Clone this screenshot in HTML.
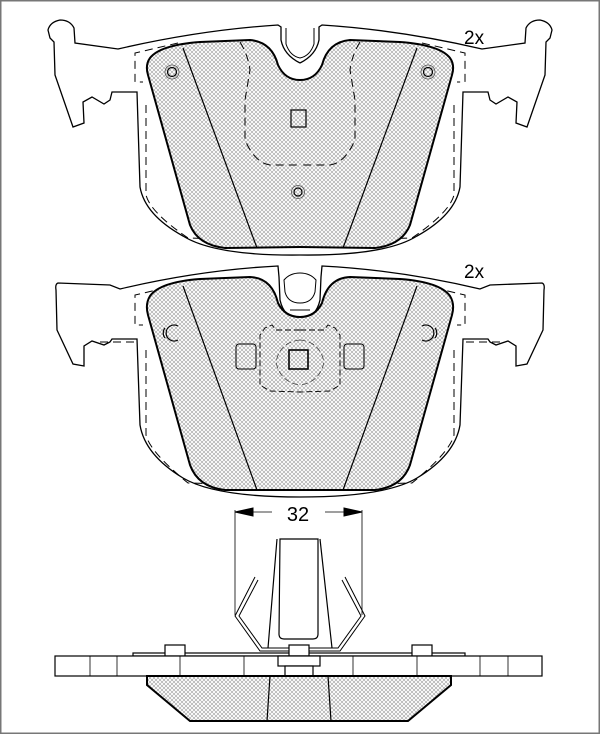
<!DOCTYPE html>
<html><head><meta charset="utf-8"><style>
html,body{margin:0;padding:0;background:#fff}
svg{display:block}
</style></head><body>
<svg width="600" height="734" viewBox="0 0 600 734" xmlns="http://www.w3.org/2000/svg">
<defs>
<pattern id="h" width="4" height="4" patternUnits="userSpaceOnUse">
<rect width="4" height="4" fill="#fff"/>
<path d="M0,0 L4,4 M4,0 L0,4" stroke="#9a9a9a" stroke-width="0.55"/>
</pattern>
<g id="bp1">
<path d="M300,63 Q284,55 281,40 L281,27 L278,25 Q200,30 118,49 L75,43 L74,28 Q70,20 60,20 Q50,22 48,30 L50,38 L54,42 L55,75 L73,127 L84,123 L83,102 L92,97 L104,104 L110,100 L112,92 L137,92 L140,187 Q145,215 183,236 Q215,256 300,255" fill="none" stroke="#000" stroke-width="1.3"/>
<path d="M300,58 Q290,56 286,44 L286,28" fill="none" stroke="#000" stroke-width="1"/>
<path d="M178,43 L135,53 L135,82 L143,82 M146,105 L146,195 Q150,212 188,238 L300,241" fill="none" stroke="#000" stroke-width="1" stroke-dasharray="8,5"/>
<path d="M300,80 Q285,80 278,65 Q272,42 250,40 L200,42 Q160,45 150,58 Q145,65 148,75 L190,225 Q198,245 225,248 L300,247 Z" fill="url(#h)" stroke="none"/>
<path d="M300,80 Q285,80 278,65 Q272,42 250,40 L200,42 Q160,45 150,58 Q145,65 148,75 L190,225 Q198,245 225,248 L300,247" fill="none" stroke="#000" stroke-width="2"/>
<path d="M183,48 L257,248" stroke="#000" stroke-width="1.2"/>
<path d="M240,42 Q248,55 250,70 L245,100 L245,140 Q255,163 270,165 L300,165" fill="none" stroke="#000" stroke-width="1" stroke-dasharray="8,5"/>
<circle cx="172" cy="72" r="4.5" fill="none" stroke="#000" stroke-width="1.2"/>
<circle cx="172" cy="72" r="7" fill="none" stroke="#555" stroke-width="0.8"/>
</g>
<g id="bp2">
<path d="M300,320 Q284,318 280,300 L279,277 L278,266 Q200,270 120,289 L110,285 L58,283 Q55,284 56,290 L57,330 L73,364 L84,366 L84,346 L92,341 L104,345 L110,342 L112,339 L137,339 L140,425 Q145,455 183,478 Q215,497 300,497" fill="none" stroke="#000" stroke-width="1.3"/>
<path d="M178,285 L135,295 L135,325 L143,325 M100,342 L137,342 M146,350 L146,435 Q150,452 188,483 L300,486" fill="none" stroke="#000" stroke-width="1" stroke-dasharray="8,5"/>
<path d="M300,317 Q285,317 278,303 Q272,278 250,277 L200,279 Q160,282 150,296 Q145,304 148,315 L190,465 Q198,487 225,490 L300,490 Z" fill="url(#h)" stroke="none"/>
<path d="M300,317 Q285,317 278,303 Q272,278 250,277 L200,279 Q160,282 150,296 Q145,304 148,315 L190,465 Q198,487 225,490 L300,490" fill="none" stroke="#000" stroke-width="2"/>
<path d="M183,286 L257,490" stroke="#000" stroke-width="1.2"/>
<path d="M300,303 Q288,303 285,292 L284,280 Q290,273 300,273" fill="none" stroke="#000" stroke-width="1"/>
<path d="M300,310 L290,310" stroke="#000" stroke-width="1"/>
<path d="M300,330 L276,330 L272,325 L265,328 L260,335 L260,385 L270,391 L300,392" fill="none" stroke="#000" stroke-width="0.9" stroke-dasharray="6,3"/>
<rect x="236" y="344" width="20" height="25" rx="3" fill="none" stroke="#000" stroke-width="1"/>
<path d="M300,340 Q280,342 276,362 Q280,382 300,385" fill="none" stroke="#444" stroke-width="0.8" stroke-dasharray="6,3"/>
<path d="M178,326 A8,8 0 1,0 178,340 M165,328 A8,8 0 0,0 165,338" fill="none" stroke="#000" stroke-width="1.2"/>
</g>
</defs>

<rect x="0.75" y="0.75" width="598.5" height="732.5" fill="none" stroke="#777" stroke-width="1.5"/>

<use href="#bp1"/>
<use href="#bp1" transform="translate(600,0) scale(-1,1)"/>
<rect x="291" y="110" width="15" height="17" fill="none" stroke="#000" stroke-width="1.2"/>
<circle cx="298" cy="192" r="4" fill="none" stroke="#000" stroke-width="1.2"/>
<circle cx="298" cy="192" r="6.5" fill="none" stroke="#555" stroke-width="0.8"/>
<text x="464" y="44" font-family="Liberation Sans, sans-serif" font-size="19" fill="#000">2x</text>

<use href="#bp2"/>
<use href="#bp2" transform="translate(600,0) scale(-1,1)"/>
<rect x="289" y="350" width="19" height="19" fill="none" stroke="#000" stroke-width="1.6"/>
<text x="464" y="278" font-family="Liberation Sans, sans-serif" font-size="19" fill="#000">2x</text>

<g stroke="#000" fill="none">
<path d="M235,510 L235,615 M362,510 L362,615" stroke-width="0.8"/>
<path d="M235,512 L272,512 M325,512 L362,512" stroke-width="0.8"/>
<path d="M235,512 L253,508 L253,516 Z M362,512 L344,508 L344,516 Z" fill="#000"/>
</g>
<text x="298" y="521" text-anchor="middle" font-family="Liberation Sans, sans-serif" font-size="20" fill="#000">32</text>

<g stroke="#000" fill="#fff" stroke-width="1.2">
<path d="M277,539 L268,648 M320,539 L332,648" fill="none"/>
<path d="M280,539 L318,539 L318,634 Q318,639 313,639 L284,639 Q279,639 279,634 Z"/>
<path d="M255,577 L235,616 L260,651 L340,651 L365,616 L345,577 M258,580 L239,616 L262,648 L338,648 L361,616 L342,580" fill="none" stroke-width="1"/>
<rect x="133" y="653" width="332" height="3"/>
<rect x="165" y="645" width="20" height="11"/>
<rect x="412" y="645" width="20" height="11"/>
<rect x="289" y="645" width="20" height="11"/>
<rect x="55" y="656" width="487" height="20"/>
<rect x="278" y="656" width="42" height="10"/>
<rect x="285" y="666" width="28" height="10"/>
<path d="M90,656v20M117,656v20M180,656v20M244,656v20M353,656v20M417,656v20M480,656v20M508,656v20" stroke-width="0.8"/>
<path d="M147,676 L147,685 L190,721 L408,721 L451,685 L451,676 Z" fill="url(#h)" stroke-width="2"/>
<path d="M270,676 L267,721 M328,676 L331,721" stroke-width="1.2"/>
</g>
</svg>
</body></html>
